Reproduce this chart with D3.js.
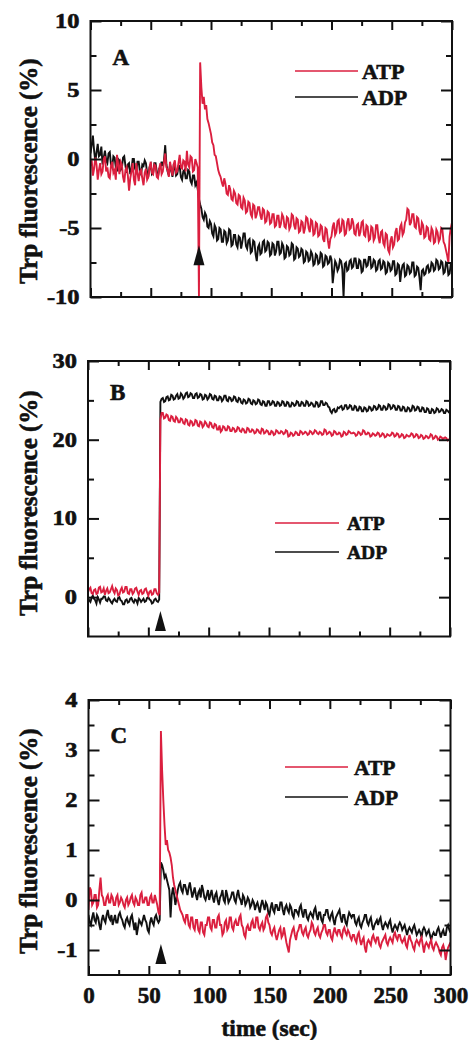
<!DOCTYPE html>
<html>
<head>
<meta charset="utf-8">
<script src="https://cdn.jsdelivr.net/npm/d3@7"></script>
<style>
  body { margin: 0; background: #fff; }
  svg text { font-family: "Liberation Serif", "Times New Roman", serif; font-weight: bold; fill: #111; stroke: #111; stroke-width: 0.6px; }
</style>
</head>
<body>
<svg id="fig" width="469" height="1040"></svg>
<script>
// sampling interval of every trace (sec): one value per second, 0..300
var dt = 1;

var xMajor = [0, 50, 100, 150, 200, 250, 300];
var xMinor = [25, 75, 125, 175, 225, 275];

// panel A
var atpA = [
  -0.5, -0.1, -1.2, -0.7, 0.1, -0.4, -1.5, -0.8, -0.3, -1.1, -0.9, 0.0, 0.2, -0.9, -0.6, -1.3, -1.4, -0.5, -0.2, -1.0,
  -0.8, -1.5, 0.3, -0.4, -1.1, -0.2, -0.4, -1.3, -1.7, -0.8, -0.6, -1.2, -2.3, -1.4, -0.9, -0.3, -1.5, -1.9, -0.3, -1.0,
  -1.6, -0.9, -0.8, -1.4, -1.9, -1.0, -0.7, -1.5, -1.3, -0.6, -0.2, -1.0, -1.1, -0.4, -0.5, -1.3, -1.4, -0.7, -0.3, -1.1,
  -0.9, -0.2, 0.4, -0.6, -0.8, -1.3, -0.2, -0.7, -1.2, -0.4, -0.1, -1.0, -0.9, -0.3, 0.3, -0.6, -0.7, -0.1, -0.2, -0.9,
  0.6, -0.4, -0.6, 0.2, 0.1, -0.9, -0.8, 0.0, -0.3, -0.6, -10, 7.0, 5.2, 4.0, 4.5, 3.6, 3.9, 2.9, 2.6, 2.2,
  1.8, 1.2, 1.0, 0.3, 0.2, -0.3, -0.8, -1.1, -1.3, -1.7, -2.0, -1.4, -1.8, -2.5, -2.6, -1.9, -2.2, -2.9, -3.0, -2.3,
  -2.5, -3.2, -3.3, -2.6, -2.7, -3.5, -3.6, -2.8, -3.0, -3.9, -3.8, -3.1, -3.2, -4.0, -4.2, -3.3, -3.4, -4.3, -4.0, -3.5,
  -3.5, -4.1, -4.4, -3.6, -3.7, -4.6, -4.5, -3.8, -3.9, -4.7, -4.6, -4.0, -4.0, -4.9, -4.8, -4.1, -4.1, -5.0, -4.7, -4.0,
  -4.2, -4.9, -5.0, -4.2, -4.3, -5.1, -4.9, -4.0, -4.1, -4.8, -5.1, -4.3, -4.4, -5.3, -5.2, -4.5, -4.6, -5.4, -5.0, -4.2,
  -4.3, -5.0, -5.3, -4.4, -4.5, -5.5, -5.4, -4.6, -4.7, -5.6, -5.5, -4.8, -4.9, -5.8, -6.0, -5.0, -5.1, -5.9, -6.5, -5.8,
  -5.6, -4.9, -4.6, -5.5, -5.3, -4.5, -4.4, -5.3, -5.2, -4.4, -4.5, -5.5, -5.4, -4.6, -4.3, -5.1, -5.0, -4.3, -4.6, -5.4,
  -5.5, -4.8, -4.7, -5.6, -5.3, -4.6, -4.5, -5.5, -5.6, -4.8, -4.9, -5.9, -5.8, -4.9, -5.0, -5.9, -5.7, -4.8, -4.8, -5.7,
  -6.1, -5.3, -5.2, -6.1, -6.3, -5.4, -5.5, -6.6, -6.8, -5.9, -5.6, -6.4, -6.2, -5.3, -5.0, -5.9, -5.8, -4.9, -4.7, -5.5,
  -5.3, -4.6, -4.4, -3.6, -3.7, -4.8, -4.6, -4.0, -4.0, -4.9, -5.0, -4.2, -4.3, -5.2, -5.5, -4.6, -4.8, -5.7, -5.6, -4.9,
  -5.0, -5.8, -5.9, -5.0, -5.2, -6.1, -6.0, -5.1, -5.3, -6.0, -5.8, -5.0, -5.1, -6.0, -6.2, -6.6, -7.0, -7.5, -5.6, -5.0,
  -4.6
];
var adpA = [
  0.4, 1.0, 1.7, 0.6, -0.2, 0.5, 1.1, 0.2, 0.3, 0.9, -0.4, 0.1, 0.6, -0.1, -0.3, 0.4, 0.5, -0.4, -0.6, 0.2,
  0.1, -0.6, -0.9, 0.0, -0.1, -0.8, -0.7, 0.1, 0.2, -0.5, -1.0, -0.4, -0.3, -1.1, -0.8, 0.0, 0.0, -0.7, -0.9, -0.2,
  -0.2, -0.9, -1.1, -0.4, -0.5, -0.1, -0.3, -1.0, -1.2, -0.6, -0.4, -1.1, -1.0, -0.3, -0.3, -0.9, -1.3, -0.7, -0.6, -0.2,
  -0.5, -0.1, 1.0, -0.4, -0.9, -1.2, -0.4, -0.8, -1.3, -0.5, -0.6, -1.2, -1.1, -0.5, -0.5, -1.3, -1.5, -0.9, -0.8, -1.4,
  -1.4, -0.8, -0.9, -1.6, -1.8, -1.2, -1.2, -1.9, -1.7, -2.2, -2.9, -3.3, -3.6, -4.2, -4.4, -3.9, -4.1, -4.9, -5.0, -4.5,
  -4.7, -5.4, -5.6, -4.8, -5.0, -5.9, -5.8, -5.0, -5.1, -6.0, -6.0, -5.2, -5.3, -6.1, -5.9, -5.1, -5.2, -6.3, -6.2, -5.5,
  -5.5, -6.2, -6.4, -5.6, -5.7, -6.5, -6.0, -5.4, -5.4, -6.3, -6.5, -5.9, -5.8, -6.8, -6.7, -5.9, -6.0, -6.9, -7.4, -6.4,
  -6.2, -6.9, -6.8, -6.0, -5.9, -6.7, -6.6, -6.0, -6.1, -7.0, -6.9, -6.1, -6.2, -7.0, -6.7, -6.0, -6.0, -6.9, -6.8, -6.1,
  -6.3, -7.2, -7.1, -6.3, -6.4, -7.0, -6.9, -6.1, -6.2, -7.3, -7.2, -6.4, -6.5, -7.1, -7.0, -6.5, -6.6, -7.5, -7.4, -6.7,
  -6.8, -7.4, -7.3, -6.7, -6.9, -7.7, -7.6, -6.9, -7.0, -7.6, -7.5, -6.8, -6.9, -7.8, -7.7, -7.0, -7.1, -7.6, -7.5, -7.0,
  -7.3, -9.0, -8.2, -7.4, -7.6, -8.1, -7.9, -7.3, -7.4, -8.0, -10.0, -7.6, -7.5, -8.1, -8.0, -7.4, -7.3, -7.9, -7.8, -7.2,
  -7.2, -7.9, -7.9, -7.3, -7.4, -8.2, -8.1, -7.3, -7.3, -7.8, -7.7, -7.1, -7.1, -7.9, -7.8, -7.3, -7.4, -8.1, -8.0, -7.4,
  -7.3, -8.0, -7.9, -7.4, -7.5, -8.3, -8.2, -7.5, -7.6, -8.1, -8.0, -7.4, -7.4, -8.4, -8.3, -7.6, -7.7, -8.9, -8.1, -7.7,
  -7.6, -8.5, -8.4, -7.7, -7.8, -8.3, -8.2, -7.5, -7.5, -8.5, -8.4, -7.8, -7.9, -8.6, -9.5, -8.1, -8.0, -8.4, -8.3, -7.8,
  -7.7, -8.2, -8.1, -7.5, -7.6, -8.1, -8.0, -7.3, -7.4, -8.0, -7.9, -7.4, -7.5, -8.3, -8.2, -7.5, -7.6, -8.4, -8.3, -7.6,
  -7.5
];

// panel B
var atpB = [
  0.6, 1.0, 1.2, 0.5, 0.4, 0.9, 1.0, 0.4, 0.5, 1.2, 1.3, 0.6, 0.7, 1.1, 0.3, 0.8, 1.1, 0.5, 0.6, 1.0,
  1.4, 0.8, 0.5, 1.1, 0.9, 0.2, 0.3, 0.9, 1.2, 0.6, 0.7, 1.3, 1.3, 0.5, 0.4, 1.0, 1.0, 0.4, 0.6, 1.1,
  1.2, 0.7, 0.3, 0.8, 0.9, 0.4, 0.5, 1.0, 1.1, 0.6, 0.2, 0.7, 0.8, 0.3, 0.4, 1.0, 1.0, 0.5, 0.3, 0.6,
  22.6, 23.4, 23.4, 22.7, 22.8, 23.2, 23.1, 22.5, 22.4, 23.0, 22.9, 22.4, 22.3, 22.9, 22.7, 22.2, 22.2, 22.7, 22.6, 22.1,
  22.0, 22.6, 22.5, 21.9, 21.8, 22.4, 22.3, 21.8, 21.9, 22.5, 22.4, 21.8, 21.7, 22.3, 22.2, 21.6, 21.8, 22.3, 22.1, 21.7,
  21.6, 22.2, 22.1, 21.6, 21.5, 22.0, 21.9, 21.3, 21.3, 21.8, 21.0, 21.2, 21.7, 21.6, 21.2, 21.2, 21.7, 21.6, 21.1, 21.1,
  21.5, 21.4, 21.0, 21.1, 21.6, 21.5, 21.1, 21.0, 21.4, 21.3, 20.9, 20.9, 21.5, 21.4, 21.0, 21.0, 21.3, 21.2, 20.8, 20.9,
  21.3, 21.2, 20.9, 20.8, 21.4, 21.3, 20.8, 20.9, 21.2, 21.1, 20.7, 20.7, 21.1, 21.0, 20.6, 20.7, 21.2, 21.1, 20.8, 20.8,
  21.1, 21.0, 20.7, 20.8, 21.2, 21.1, 20.4, 20.5, 20.9, 20.8, 20.5, 20.6, 21.0, 20.9, 20.6, 20.6, 21.1, 21.0, 20.7, 20.8,
  21.0, 20.9, 20.6, 20.7, 21.1, 21.0, 20.7, 20.8, 21.2, 21.1, 20.8, 20.7, 21.0, 20.9, 20.6, 20.7, 21.3, 21.2, 20.7, 20.8,
  21.0, 20.9, 20.5, 20.6, 21.1, 21.0, 20.7, 20.7, 20.9, 20.8, 20.4, 20.5, 21.0, 20.9, 20.6, 20.7, 21.1, 21.0, 20.8, 20.8,
  20.9, 20.8, 20.5, 20.6, 21.0, 20.9, 20.6, 20.7, 21.2, 21.1, 20.7, 20.7, 20.9, 20.8, 20.4, 20.5, 20.8, 20.7, 20.5, 20.6,
  20.9, 20.8, 20.4, 20.5, 20.8, 20.7, 20.3, 20.4, 20.7, 20.6, 20.5, 20.6, 20.9, 20.8, 20.4, 20.5, 20.8, 20.7, 20.3, 20.4,
  20.7, 20.6, 20.2, 20.3, 20.6, 20.5, 20.4, 20.5, 20.8, 20.7, 20.3, 20.4, 20.7, 20.6, 20.2, 20.3, 20.6, 20.5, 20.1, 20.2,
  20.5, 20.4, 20.2, 20.3, 20.7, 20.6, 20.1, 20.2, 20.5, 20.4, 20.0, 20.1, 20.4, 20.3, 20.1, 20.2, 20.3, 20.2, 19.9, 20.0,
  20.2
];
var adpB = [
  -0.1, -0.4, -0.6, -0.1, 0.2, -0.2, -0.4, -0.8, 0.0, -0.3, -0.7, -0.2, -0.2, 0.1, 0.1, -0.4, -0.5, -0.1, -0.3, -0.6,
  -0.8, -0.4, -0.2, -0.5, -0.6, -0.1, 0.0, -0.4, -0.5, -0.9, -0.9, -0.4, -0.3, -0.7, -0.6, -0.2, -0.1, -0.5, -0.7, -0.3,
  -0.4, -0.8, -0.1, -0.3, -0.6, -0.4, -0.2, -0.6, -0.5, -0.1, 0.0, -0.3, -0.4, -0.8, -0.7, -0.3, -0.2, -0.5, -0.6, -0.3,
  24.8, 25.2, 25.3, 24.8, 24.9, 25.4, 25.5, 25.0, 25.1, 25.7, 25.6, 25.1, 25.2, 25.6, 25.8, 25.2, 25.3, 25.9, 25.7, 25.2,
  25.4, 25.9, 26.0, 25.4, 25.5, 25.9, 25.8, 25.3, 25.3, 25.8, 25.9, 25.3, 25.4, 25.8, 25.7, 25.1, 25.2, 25.7, 25.6, 25.1,
  25.3, 25.8, 25.7, 25.2, 25.1, 25.6, 25.5, 25.0, 25.0, 25.5, 25.4, 24.9, 25.1, 25.6, 25.6, 25.0, 24.9, 25.4, 25.3, 24.9,
  25.0, 25.5, 25.4, 24.9, 24.8, 25.3, 25.2, 24.7, 24.6, 25.1, 25.0, 24.6, 24.7, 25.2, 25.1, 24.6, 24.5, 25.0, 24.9, 24.5,
  24.6, 25.1, 25.0, 24.5, 24.4, 24.9, 24.8, 24.3, 24.3, 24.9, 24.9, 24.4, 24.5, 24.9, 24.8, 24.3, 24.3, 24.8, 24.7, 24.3,
  24.4, 24.9, 24.8, 24.3, 24.3, 24.8, 24.7, 24.2, 24.2, 24.7, 24.6, 24.3, 24.4, 24.9, 24.8, 24.3, 24.3, 24.8, 24.7, 24.3,
  24.3, 24.9, 24.8, 24.3, 24.4, 24.7, 24.6, 24.2, 24.2, 24.8, 24.7, 24.2, 24.3, 24.9, 24.9, 24.4, 24.4, 24.7, 24.6, 24.2,
  24.1, 23.6, 23.4, 23.8, 23.9, 23.5, 23.6, 24.1, 24.0, 24.2, 24.3, 23.8, 23.9, 24.4, 24.4, 23.9, 24.0, 24.4, 24.3, 23.8,
  23.8, 24.3, 24.2, 23.7, 23.7, 24.2, 24.1, 23.6, 23.6, 24.1, 24.0, 23.6, 23.7, 24.2, 24.1, 23.7, 23.8, 24.3, 24.2, 23.8,
  23.9, 24.4, 24.3, 23.8, 23.8, 24.3, 24.2, 23.8, 23.9, 24.5, 24.4, 23.9, 24.0, 24.4, 24.3, 23.8, 23.8, 24.3, 24.2, 23.7,
  23.7, 24.2, 24.1, 23.6, 23.6, 24.1, 24.0, 23.6, 23.7, 24.3, 24.2, 23.7, 23.8, 24.2, 24.1, 23.6, 23.6, 24.1, 24.0, 23.5,
  23.5, 24.0, 23.9, 23.4, 23.4, 23.9, 23.8, 23.4, 23.5, 24.0, 23.9, 23.5, 23.6, 23.9, 23.8, 23.4, 23.4, 23.8, 23.7, 23.5,
  23.6
];

// panel C
var atpC = [
  -0.2, 0.25, 0.2, -0.1, -0.05, 0.1, 0.1, -0.15, -0.1, 0.2, 0.45, 0.1, 0.05, -0.1, -0.1, 0.05, 0.1, -0.05, -0.05, 0.1,
  0.05, -0.1, -0.1, 0.05, 0.1, -0.1, -0.05, 0.05, 0.0, -0.1, -0.15, 0.0, 0.05, -0.1, -0.05, 0.05, 0.1, -0.05, -0.1, 0.05,
  0.0, -0.1, -0.1, 0.1, 0.15, -0.05, -0.05, 0.05, 0.05, -0.1, -0.1, 0.05, 0.1, -0.05, -0.05, 0.1, 0.0, -0.1, -0.25, -0.3,
  3.38, 2.6, 2.0, 1.5, 1.1, 1.2, 1.0, 0.95, 0.85, 0.7, 0.45, 0.3, 0.2, 0.1, 0.0, -0.1, -0.2, -0.25, -0.3, -0.4,
  -0.45, -0.3, -0.3, -0.5, -0.55, -0.35, -0.35, -0.55, -0.6, -0.4, -0.4, -0.6, -0.65, -0.45, -0.45, -0.65, -0.7, -0.5, -0.5, -0.35,
  -0.35, -0.55, -0.6, -0.4, -0.4, -0.55, -0.55, -0.35, -0.3, -0.5, -0.5, -0.7, -0.65, -0.45, -0.4, -0.6, -0.55, -0.35, -0.35, -0.55,
  -0.6, -0.45, -0.4, -0.5, -0.5, -0.35, -0.3, -0.5, -0.55, -0.7, -0.75, -0.55, -0.5, -0.6, -0.6, -0.45, -0.4, -0.55, -0.55, -0.35,
  -0.35, -0.55, -0.6, -0.5, -0.45, -0.6, -0.55, -0.35, -0.3, -0.45, -0.5, -0.65, -0.7, -0.6, -0.55, -0.7, -0.8, -0.7, -0.6, -0.55,
  -0.75, -0.7, -0.55, -0.7, -0.85, -0.95, -1.05, -0.8, -0.7, -0.6, -0.55, -0.7, -0.8, -0.65, -0.6, -0.5, -0.5, -0.65, -0.7, -0.6,
  -0.55, -0.7, -0.75, -0.65, -0.6, -0.45, -0.5, -0.65, -0.7, -0.6, -0.55, -0.7, -0.75, -0.65, -0.6, -0.5, -0.5, -0.65, -0.7, -0.6,
  -0.6, -0.75, -0.8, -0.65, -0.55, -0.65, -0.7, -0.6, -0.6, -0.7, -0.75, -0.6, -0.55, -0.65, -0.7, -0.6, -0.65, -0.75, -0.8, -0.7,
  -0.7, -0.8, -0.85, -0.7, -0.65, -0.8, -0.9, -0.8, -0.75, -0.95, -1.05, -0.85, -0.8, -0.85, -0.9, -0.75, -0.7, -0.8, -0.85, -0.75,
  -0.75, -0.9, -0.95, -0.85, -0.8, -0.75, -0.7, -0.85, -0.9, -0.8, -0.75, -0.8, -0.85, -0.7, -0.65, -0.75, -0.8, -0.7, -0.7, -0.8,
  -0.85, -0.8, -0.75, -0.9, -0.95, -0.8, -0.7, -0.8, -0.85, -0.95, -1.0, -0.85, -0.8, -0.85, -0.9, -0.8, -0.75, -0.9, -1.05, -0.9,
  -0.85, -0.9, -0.95, -0.85, -0.8, -0.95, -1.0, -0.9, -0.85, -0.9, -0.95, -1.05, -1.1, -0.95, -0.9, -1.0, -1.2, -1.05, -0.95, -0.9,
  -0.85
];
var adpC = [
  -0.3, -0.45, -0.5, -0.35, -0.25, -0.4, -0.45, -0.3, -0.35, -0.5, -0.6, -0.4, -0.3, -0.4, -0.45, -0.3, -0.2, -0.35, -0.4, -0.3,
  -0.5, -0.4, -0.3, -0.45, -0.45, -0.3, -0.25, -0.35, -0.4, -0.5, -0.55, -0.4, -0.35, -0.45, -0.5, -0.35, -0.3, -0.45, -0.6, -0.45,
  -0.7, -0.55, -0.4, -0.45, -0.5, -0.4, -0.3, -0.4, -0.45, -0.6, -0.65, -0.45, -0.35, -0.45, -0.5, -0.35, -0.3, -0.4, -0.45, -0.4,
  0.75, 0.7, 0.6, 0.45, 0.5, 0.4, 0.3, 0.2, -0.35, 0.1, 0.25, 0.1, -0.1, 0.05, 0.2, 0.3, 0.35, 0.2, 0.15, 0.3,
  0.3, 0.2, 0.1, 0.25, 0.35, 0.2, 0.05, 0.15, 0.25, 0.1, 0.0, 0.15, 0.2, 0.05, 0.3, 0.2, 0.05, 0.0, 0.1, 0.2,
  0.0, 0.1, 0.2, 0.05, -0.05, 0.1, 0.15, 0.0, -0.1, 0.05, 0.1, 0.2, 0.0, -0.05, 0.2, 0.1, -0.05, 0.0, 0.05, 0.15,
  0.15, 0.0, -0.05, 0.1, 0.2, 0.05, 0.0, -0.1, 0.1, 0.05, -0.1, -0.05, 0.05, 0.0, -0.15, -0.1, 0.0, -0.05, -0.2, -0.1,
  -0.05, -0.15, -0.25, -0.1, 0.0, -0.1, -0.2, -0.05, -0.1, -0.25, -0.3, -0.15, -0.05, -0.2, -0.25, -0.1, -0.1, -0.2, -0.2, -0.05,
  -0.05, -0.2, -0.3, -0.15, -0.1, -0.2, -0.25, -0.1, -0.15, -0.3, -0.35, -0.2, -0.2, -0.25, -0.3, -0.15, -0.1, -0.25, -0.35, -0.2,
  -0.2, -0.35, -0.4, -0.3, -0.25, -0.3, -0.35, -0.2, -0.15, -0.3, -0.4, -0.25, -0.25, -0.4, -0.45, -0.3, -0.3, -0.2, -0.2, -0.35,
  -0.4, -0.3, -0.25, -0.4, -0.5, -0.35, -0.3, -0.25, -0.2, -0.35, -0.45, -0.3, -0.3, -0.45, -0.5, -0.35, -0.25, -0.3, -0.35, -0.3,
  -0.3, -0.45, -0.5, -0.4, -0.35, -0.5, -0.55, -0.45, -0.4, -0.3, -0.3, -0.45, -0.5, -0.4, -0.35, -0.5, -0.6, -0.5, -0.45, -0.4,
  -0.5, -0.4, -0.35, -0.5, -0.6, -0.5, -0.45, -0.5, -0.55, -0.45, -0.4, -0.55, -0.65, -0.55, -0.5, -0.55, -0.6, -0.5, -0.45, -0.5,
  -0.6, -0.55, -0.5, -0.6, -0.7, -0.6, -0.55, -0.6, -0.65, -0.55, -0.5, -0.6, -0.7, -0.65, -0.6, -0.65, -0.75, -0.6, -0.55, -0.6,
  -0.7, -0.65, -0.6, -0.7, -0.8, -0.7, -0.65, -0.7, -0.7, -0.6, -0.55, -0.65, -0.75, -0.65, -0.6, -0.7, -0.7, -0.55, -0.5, -0.6,
  -0.65
];

var svg = d3.select("#fig");
var red = "#db1f3f";
var stretch = 1.22;   // the figure's numerals are wider than they are tall

var panels = [
  { name: "A", atp: atpA, adp: adpA, yDomain: [-10, 10],
    yMajor: [-10, -5, 0, 5, 10], yMinor: [-7.5, -2.5, 2.5, 7.5],
    arrow: { t: 90, y: -7.7 },
    left: 90.5, right: 452, top: 21, bottom: 297, labelDy: 44,
    titleY: 171, leg: { x1: 295, x2: 358, y: 71, gap: 26, tx: 362, size: 22 } },
  { name: "B", atp: atpB, adp: adpB, yDomain: [-5, 30],
    yMajor: [0, 10, 20, 30], yMinor: [5, 15, 25],
    arrow: { t: 60, y: -4.3 },
    left: 88, right: 450, top: 361, bottom: 636.5, labelDy: 39,
    titleY: 503, leg: { x1: 275, x2: 339, y: 523, gap: 29, tx: 347, size: 19.5 } },
  { name: "C", atp: atpC, adp: adpC, yDomain: [-1.5, 4],
    yMajor: [-1, 0, 1, 2, 3, 4], yMinor: [-0.5, 0.5, 1.5, 2.5, 3.5],
    arrow: { t: 60, y: -1.28 },
    left: 88.5, right: 450.5, top: 700, bottom: 975, labelDy: 43,
    titleY: 841, leg: { x1: 285, x2: 348, y: 767, gap: 30, tx: 354, size: 21.5 } }
];

panels.forEach(function(p, k) {
  var x = d3.scaleLinear().domain([0, 300]).range([p.left, p.right]);
  var y = d3.scaleLinear().domain(p.yDomain).range([p.bottom, p.top]);
  var g = svg.append("g");

  g.append("clipPath").attr("id", "clip" + k)
    .append("rect")
    .attr("x", p.left).attr("y", p.top)
    .attr("width", p.right - p.left).attr("height", p.bottom - p.top);

  var line = d3.line()
    .x(function(d, i) { return x(i * dt); })
    .y(function(d) { return y(d); });

  var traces = g.append("g").attr("clip-path", "url(#clip" + k + ")");
  traces.append("path").datum(p.adp)
    .attr("d", line).attr("fill", "none")
    .attr("stroke", "#111").attr("stroke-width", 1.9);
  traces.append("path").datum(p.atp)
    .attr("d", line).attr("fill", "none")
    .attr("stroke", red).attr("stroke-width", 1.9);

  // arrowhead marking the addition
  var ax = x(p.arrow.t), ay = y(p.arrow.y);
  g.append("path")
    .attr("d", "M" + (ax - 5.5) + "," + ay + "L" + (ax + 5.5) + "," + ay + "L" + ax + "," + (ay - 20) + "Z")
    .attr("fill", "#111");

  // ticks, pointing inward on all four sides
  function tickAxis(axis, tf) {
    var a = g.append("g").attr("transform", tf).call(axis);
    a.select(".domain").remove();
    a.selectAll(".tick line").attr("stroke", "#111").attr("stroke-width", 2);
    return a;
  }
  tickAxis(d3.axisBottom(x).tickValues(xMajor).tickSize(-9).tickFormat(""), "translate(0," + p.bottom + ")");
  tickAxis(d3.axisBottom(x).tickValues(xMinor).tickSize(-5).tickFormat(""), "translate(0," + p.bottom + ")");
  tickAxis(d3.axisTop(x).tickValues(xMajor).tickSize(-9).tickFormat(""), "translate(0," + p.top + ")");
  tickAxis(d3.axisTop(x).tickValues(xMinor).tickSize(-5).tickFormat(""), "translate(0," + p.top + ")");
  var yl = tickAxis(d3.axisLeft(y).tickValues(p.yMajor).tickSize(-11).tickPadding(11)
    .tickFormat(function(d) { return String(d); }), "translate(" + p.left + ",0)");
  yl.selectAll(".tick text")
    .attr("font-size", 20).attr("font-family", null).attr("fill", null)
    .attr("x", -11 / stretch)
    .attr("transform", "scale(" + stretch + ",1)");
  tickAxis(d3.axisLeft(y).tickValues(p.yMinor).tickSize(-6).tickFormat(""), "translate(" + p.left + ",0)");
  tickAxis(d3.axisRight(y).tickValues(p.yMajor).tickSize(-11).tickFormat(""), "translate(" + p.right + ",0)");
  tickAxis(d3.axisRight(y).tickValues(p.yMinor).tickSize(-6).tickFormat(""), "translate(" + p.right + ",0)");

  if (p.name === "C") {
    var xl = tickAxis(d3.axisBottom(x).tickValues(xMajor).tickSize(0).tickPadding(12)
      .tickFormat(function(d) { return String(d); }), "translate(0," + p.bottom + ")");
    xl.selectAll(".tick text").attr("font-size", 23).attr("font-family", null).attr("fill", null);
    g.append("text")
      .attr("x", (p.left + p.right) / 2).attr("y", 1036)
      .attr("text-anchor", "middle").attr("font-size", 23.5)
      .text("time (sec)");
  }

  g.append("rect")
    .attr("x", p.left).attr("y", p.top)
    .attr("width", p.right - p.left).attr("height", p.bottom - p.top)
    .attr("fill", "none").attr("stroke", "#111").attr("stroke-width", 2);

  g.append("text")
    .attr("transform", "translate(37," + p.titleY + ") rotate(-90)")
    .attr("text-anchor", "middle").attr("font-size", 25)
    .text("Trp fluorescence (%)");

  g.append("text")
    .attr("x", p.left + 22).attr("y", p.top + p.labelDy)
    .attr("font-size", 23)
    .text(p.name);

  // legend
  var lg = [["ATP", red, 0], ["ADP", "#111", p.leg.gap]];
  lg.forEach(function(l) {
    g.append("line")
      .attr("x1", p.leg.x1).attr("x2", p.leg.x2)
      .attr("y1", p.leg.y + l[2]).attr("y2", p.leg.y + l[2])
      .attr("stroke", l[1]).attr("stroke-width", 1.5);
    g.append("text")
      .attr("x", p.leg.tx).attr("y", p.leg.y + l[2] + p.leg.size * 0.36)
      .attr("font-size", p.leg.size)
      .text(l[0]);
  });
});
</script>
</body>
</html>
